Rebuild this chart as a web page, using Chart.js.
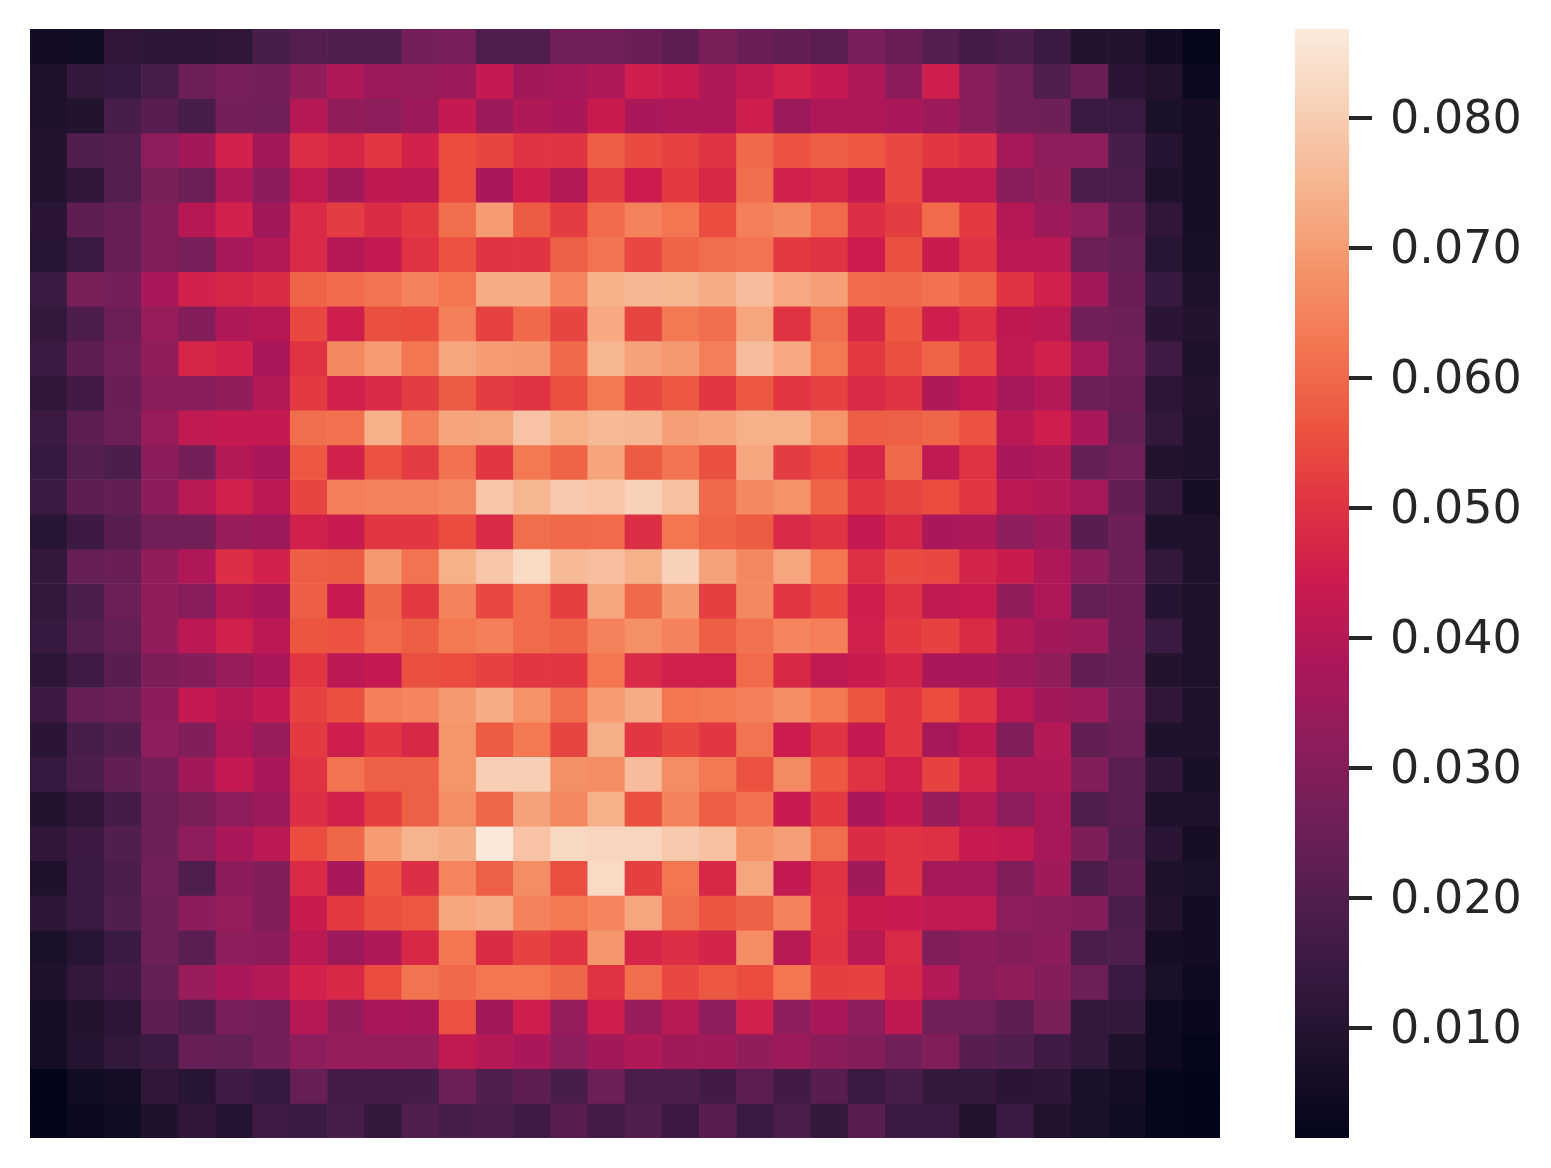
<!DOCTYPE html>
<html>
<head>
<meta charset="utf-8">
<style>
  html, body { margin: 0; padding: 0; background: #fff; }
  canvas { position: absolute; }
  #heat { left: 30px; top: 29px; }
  #cbar { left: 1295px; top: 0; }
</style>
<script src="https://cdn.jsdelivr.net/npm/chart.js@4"></script>
</head>
<body>
<canvas id="heat" width="1190" height="1109"></canvas>
<canvas id="cbar" width="256" height="1168"></canvas>
<script>
// values, one list per row, top to bottom
const row00 = [.0055,.005,.0125,.0115,.012,.0125,.018,.0205, .02,.0195,.027,.0275,.0195,.0195,.0265,.0265, .0245,.022,.028,.0245,.023,.0215,.0275,.0245, .0205,.017,.019,.015,.0095,.009,.0055,.0025];
const row01 = [.008,.013,.014,.018,.0255,.0275,.027,.0325, .039,.035,.034,.035,.043,.036,.0365,.039, .045,.0435,.039,.042,.046,.043,.039,.0315, .045,.0305,.026,.0195,.0245,.011,.009,.004];
const row02 = [.0085,.0095,.018,.021,.018,.027,.0265,.04, .033,.032,.035,.043,.035,.039,.0375,.044, .0375,.0385,.0385,.045,.0345,.0385,.0385,.0375, .035,.0305,.026,.0255,.015,.015,.0075,.0065];
const row03 = [.0095,.02,.0205,.032,.036,.046,.036,.049, .047,.051,.046,.055,.0535,.0505,.0505,.058, .0545,.053,.0505,.06,.056,.058,.057,.054, .051,.049,.0365,.032,.032,.018,.01,.0065];
const row04 = [.009,.0125,.0205,.028,.025,.039,.0315,.042, .0355,.0415,.041,.055,.038,.045,.0395,.052, .0445,.0515,.0475,.061,.0455,.047,.0425,.054, .042,.042,.031,.033,.0185,.0185,.0085,.0065];
const row05 = [.011,.0225,.024,.029,.04,.046,.036,.048, .052,.0485,.0515,.061,.07,.0575,.052,.0605, .065,.0625,.055,.0645,.066,.0605,.049,.052, .0605,.0515,.04,.035,.032,.0225,.0125,.0065];
const row06 = [.0105,.0145,.024,.029,.0275,.0365,.0395,.048, .04,.043,.05,.056,.0505,.0505,.0585,.062, .054,.059,.061,.062,.0515,.05,.0445,.0555, .044,.0505,.041,.041,.025,.0235,.0105,.007];
const row07 = [.0145,.028,.027,.0375,.046,.047,.0485,.059, .0605,.062,.065,.0625,.073,.073,.0655,.074, .0755,.075,.073,.0765,.0725,.0705,.0605,.06, .0615,.059,.0505,.0455,.036,.0245,.014,.0085];
const row08 = [.0135,.019,.025,.034,.03,.039,.04,.054, .045,.0555,.055,.0645,.053,.06,.0535,.0725, .0535,.063,.061,.072,.05,.061,.047,.057, .045,.0495,.0415,.041,.026,.0255,.011,.0095];
const row09 = [.015,.0225,.0265,.033,.047,.046,.038,.05, .066,.07,.0625,.072,.07,.0695,.06,.075, .071,.0695,.064,.0765,.0725,.063,.0515,.0555, .059,.054,.042,.0455,.037,.026,.016,.0085];
const row10 = [.0125,.0165,.0245,.031,.031,.0325,.0395,.0515, .0455,.048,.052,.0575,.052,.05,.0555,.063, .054,.057,.051,.057,.051,.053,.048,.0505, .039,.043,.037,.0395,.0255,.0245,.0115,.0095];
const row11 = [.015,.022,.025,.034,.042,.043,.043,.061, .0615,.074,.0645,.0715,.072,.078,.074,.076, .0755,.0705,.0715,.074,.074,.0685,.058,.0585, .0595,.056,.041,.045,.0375,.0235,.013,.0085];
const row12 = [.014,.0205,.019,.0315,.027,.0395,.038,.057, .046,.056,.052,.0615,.051,.063,.059,.0715, .0575,.062,.0555,.072,.052,.055,.047,.06, .042,.05,.0375,.039,.0235,.026,.0095,.0085];
const row13 = [.015,.0225,.023,.0315,.0405,.0455,.041,.0535, .064,.065,.065,.066,.0785,.075,.079,.0785, .081,.0775,.06,.066,.068,.059,.051,.0535, .055,.051,.041,.0395,.0365,.023,.013,.0065];
const row14 = [.0105,.0155,.021,.0265,.0265,.034,.035,.0455, .0435,.051,.051,.055,.048,.061,.06,.0605, .049,.0625,.059,.0575,.048,.0505,.043,.0475, .0375,.039,.032,.035,.021,.0255,.0085,.008];
const row15 = [.013,.024,.0245,.033,.0385,.049,.046,.058, .0575,.0695,.062,.074,.0785,.083,.076,.077, .074,.081,.071,.066,.072,.0625,.0495,.0545, .054,.0465,.044,.0385,.0315,.0255,.013,.0085];
const row16 = [.013,.0185,.025,.033,.0305,.0395,.0375,.058, .0435,.0595,.0515,.065,.054,.0605,.0525,.072, .06,.0695,.0525,.066,.051,.0545,.045,.0505, .042,.0435,.033,.0385,.0235,.0245,.01,.008];
const row17 = [.014,.0205,.0235,.033,.041,.0455,.041,.0565, .056,.0605,.058,.063,.0645,.0605,.059,.065, .0675,.065,.058,.0615,.0655,.064,.0455,.0515, .053,.0485,.0395,.036,.0345,.0245,.0145,.008];
const row18 = [.0115,.016,.021,.0285,.03,.034,.038,.051, .041,.043,.0555,.055,.053,.051,.051,.0625, .048,.0455,.0455,.0605,.0475,.042,.044,.0465, .038,.038,.035,.0325,.023,.024,.0095,.008];
const row19 = [.0155,.024,.025,.0315,.043,.04,.043,.053, .0555,.064,.0655,.0695,.073,.068,.061,.07, .073,.0625,.063,.0645,.067,.063,.0565,.051, .055,.05,.041,.036,.0345,.026,.0125,.008];
const row20 = [.011,.018,.02,.032,.0295,.0385,.034,.0515, .045,.051,.0475,.0685,.0575,.063,.0535,.0735, .051,.054,.051,.062,.0445,.0505,.0425,.051, .037,.0415,.029,.0395,.023,.025,.0085,.0085];
const row21 = [.014,.019,.023,.027,.036,.043,.0375,.05, .062,.0585,.0585,.0685,.0805,.0805,.0675,.067, .0765,.067,.063,.056,.0665,.057,.05,.0455, .053,.047,.0385,.039,.0295,.0215,.0125,.007];
const row22 = [.009,.0125,.017,.025,.028,.032,.0345,.049, .046,.0525,.0585,.067,.0595,.071,.066,.074, .0555,.065,.058,.0615,.0435,.0515,.038,.043, .034,.0395,.032,.037,.0195,.0215,.0085,.0085];
const row23 = [.0125,.0155,.02,.0255,.032,.0375,.041,.055, .0595,.07,.0745,.073,.0865,.078,.0825,.082, .082,.079,.0775,.068,.0705,.061,.0485,.05, .0495,.0435,.0425,.037,.0285,.0205,.011,.0065];
const row24 = [.0085,.0145,.019,.026,.0195,.0315,.0295,.048, .0375,.057,.049,.0655,.0585,.067,.0555,.083, .0525,.0625,.0475,.072,.0425,.05,.0355,.05, .0365,.037,.029,.0355,.0185,.0225,.008,.0075];
const row25 = [.012,.0145,.02,.0255,.0315,.0335,.0295,.044, .0515,.0555,.057,.072,.073,.065,.063,.0655, .072,.061,.0565,.0585,.065,.051,.044,.0435, .042,.042,.032,.031,.03,.019,.0095,.0055];
const row26 = [.0075,.0105,.015,.025,.0215,.032,.0315,.041, .035,.039,.0475,.0625,.0485,.053,.0505,.069, .047,.049,.0465,.067,.0405,.0505,.0405,.048, .029,.0315,.03,.0315,.0185,.0195,.0065,.0055];
const row27 = [.0085,.013,.0165,.0235,.034,.0375,.0395,.046, .0475,.055,.062,.06,.0625,.0625,.0595,.05, .061,.054,.057,.055,.0625,.0525,.053,.047, .0395,.031,.033,.03,.025,.015,.0075,.0045];
const row28 = [.006,.0095,.0115,.0225,.0195,.0275,.027,.04, .033,.038,.038,.056,.036,.045,.0335,.045, .034,.0405,.032,.0455,.032,.0375,.032,.0415, .026,.026,.0225,.028,.013,.0135,.0045,.003];
const row29 = [.006,.01,.013,.015,.024,.0235,.027,.032, .0335,.0335,.0335,.042,.0395,.038,.032,.036, .039,.0355,.0355,.033,.0345,.0315,.03,.026, .029,.021,.02,.016,.013,.0085,.0045,.002];
const row30 = [.0018,.005,.006,.0125,.0105,.016,.014,.024, .0175,.0175,.017,.0255,.02,.0225,.018,.0255, .0185,.0185,.0165,.022,.0165,.021,.015,.018, .0135,.0135,.011,.012,.0075,.0065,.0025,.0016];
const row31 = [.0016,.0035,.005,.0085,.0125,.01,.016,.015, .018,.0135,.0195,.018,.0185,.016,.021,.017, .02,.0155,.021,.015,.0185,.0135,.021,.015, .015,.0095,.0145,.009,.0075,.005,.002,.0016];

const rows = [row00,row01,row02,row03,row04,row05,row06,row07,row08,row09,row10,row11,row12,row13,row14,row15,
              row16,row17,row18,row19,row20,row21,row22,row23,row24,row25,row26,row27,row28,row29,row30,row31];
const columns = row00.map((_, i) => String(i));

const colorMin = 0.00154;
const colorMax = 0.08685;
const tickValues = [0.01, 0.02, 0.03, 0.04, 0.05, 0.06, 0.07, 0.08];

// rocket palette, evenly spaced stops
const rocket = ['#03051a', '#1c1029', '#35193e', '#511e4d', '#701f57', '#8e1d5b', '#ad1759', '#cb1b4f',
                '#e13342', '#ec5540', '#f37651', '#f5956a', '#f6b48f', '#f8d0b6', '#faebdd'];
const rocketRgb = rocket.map(c => [1, 3, 5].map(i => parseInt(c.slice(i, i + 2), 16)));

function colorFor(v) {
  const t = Math.min(1, Math.max(0, (v - colorMin) / (colorMax - colorMin))) * (rocket.length - 1);
  const i = Math.min(rocket.length - 2, Math.floor(t));
  const f = t - i;
  const rgb = rocketRgb[i].map((c, k) => Math.round(c + (rocketRgb[i + 1][k] - c) * f));
  return `rgb(${rgb.join(',')})`;
}

new Chart(document.getElementById('heat'), {
  type: 'bar',
  data: {
    labels: columns,
    datasets: rows.map((row, r) => ({
      data: row.map(() => [r, r + 1]),
      backgroundColor: row.map(colorFor),
      borderWidth: 0,
      grouped: false,
      barPercentage: 1,
      categoryPercentage: 1,
    })),
  },
  options: {
    responsive: false,
    animation: false,
    plugins: { legend: { display: false }, tooltip: { enabled: false } },
    scales: {
      x: { display: false },
      y: { display: false, min: 0, max: rows.length, reverse: true },
    },
  },
});

new Chart(document.getElementById('cbar'), {
  type: 'bar',
  data: {
    labels: ['colorbar'],
    datasets: [{
      data: [[colorMin, colorMax]],
      borderWidth: 0,
      barPercentage: 1,
      categoryPercentage: 1,
      backgroundColor: ctx => {
        const area = ctx.chart.chartArea;
        if (!area) return rocket[0];
        const grad = ctx.chart.ctx.createLinearGradient(0, area.bottom, 0, area.top);
        rocket.forEach((c, i) => grad.addColorStop(i / (rocket.length - 1), c));
        return grad;
      },
    }],
  },
  options: {
    responsive: false,
    animation: false,
    layout: { padding: { top: 29, bottom: 30 } },
    plugins: { legend: { display: false }, tooltip: { enabled: false } },
    scales: {
      x: { display: false },
      y: {
        position: 'right',
        min: colorMin,
        max: colorMax,
        afterFit: s => { s.width = 202; s.paddingTop = 0; s.paddingBottom = 0; },
        afterBuildTicks: s => { s.ticks = tickValues.map(value => ({ value })); },
        border: { display: false },
        grid: { drawOnChartArea: false, lineWidth: 4, tickLength: 23, tickWidth: 4, tickColor: '#262626' },
        ticks: {
          autoSkip: false,
          padding: 18,
          labelOffset: 3,
          color: '#262626',
          font: { family: 'DejaVu Sans', size: 46 },
          callback: v => v.toFixed(3),
        },
      },
    },
  },
});
</script>
</body>
</html>
